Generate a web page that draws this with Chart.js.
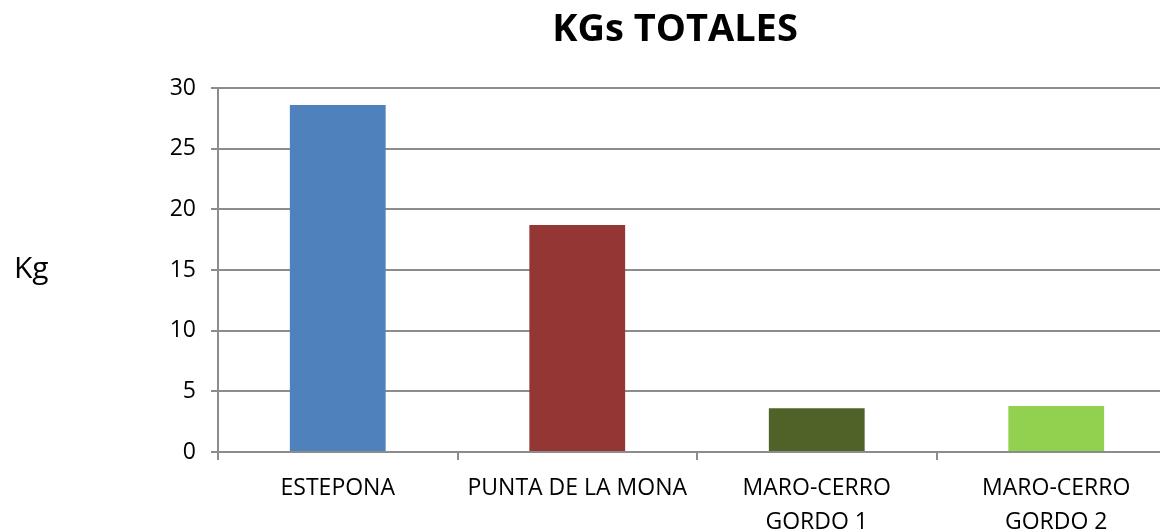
<!DOCTYPE html>
<html>
<head>
<meta charset="utf-8">
<script src="https://cdn.jsdelivr.net/npm/chart.js@4"></script>
<style>
  body { margin: 0; overflow: hidden; background: #fff; }
  #wrap { position: relative; width: 1176px; height: 531px; }
  #title { position: absolute; left: 0; width: 1350px; top: 0px; text-align: center;
           font: bold 38px "Open Sans", sans-serif; color: #000; }
  #ylab { position: absolute; left: 14px; top: 246px; font: 30px "Open Sans", sans-serif; color: #000; }
</style>
</head>
<body>
<div id="wrap">
  <canvas id="c" width="1176" height="531"></canvas>
  <div id="title">KGs TOTALES</div>
  <div id="ylab">Kg</div>
</div>
<script>
const categories = ['ESTEPONA', 'PUNTA DE LA MONA', ['MARO-CERRO', 'GORDO 1'], ['MARO-CERRO', 'GORDO 2']];
const kgTotales = [28.6, 18.7, 3.6, 3.8];
const barColors = ['#4f81bd', '#943634', '#4f6228', '#92d050'];
const yTicks = [0, 5, 10, 15, 20, 25, 30];

const gridColor = '#8c8c8c';
const tickFont = { family: '"Open Sans", sans-serif', size: 23 };

new Chart(document.getElementById('c').getContext('2d'), {
    type: 'bar',
    data: {
        labels: categories,
        datasets: [{
            data: kgTotales,
            backgroundColor: barColors,
            categoryPercentage: 1,
            barPercentage: 0.4
        }]
    },
    options: {
        responsive: false,
        animation: false,
        layout: { padding: { top: 88, left: 0, right: 0, bottom: 0 } },
        plugins: { legend: { display: false }, tooltip: { enabled: false }, title: { display: false } },
        scales: {
            x: {
                grid: { drawOnChartArea: false, offset: true, tickLength: 8, color: gridColor, lineWidth: 2 },
                border: { color: gridColor, width: 2 },
                ticks: { color: '#000', font: { ...tickFont, lineHeight: 1.45 }, padding: 12, maxRotation: 0 },
                afterFit: s => { s.height = 79; }
            },
            y: {
                min: 0, max: 30,
                afterBuildTicks: s => { s.ticks = yTicks.map(v => ({ value: v })); },
                grid: { color: gridColor, lineWidth: 2, tickLength: 7 },
                border: { color: gridColor, width: 2 },
                ticks: { color: '#000', font: tickFont, padding: 15 },
                afterFit: s => { s.width = 218; }
            }
        }
    }
});
</script>
</body>
</html>
